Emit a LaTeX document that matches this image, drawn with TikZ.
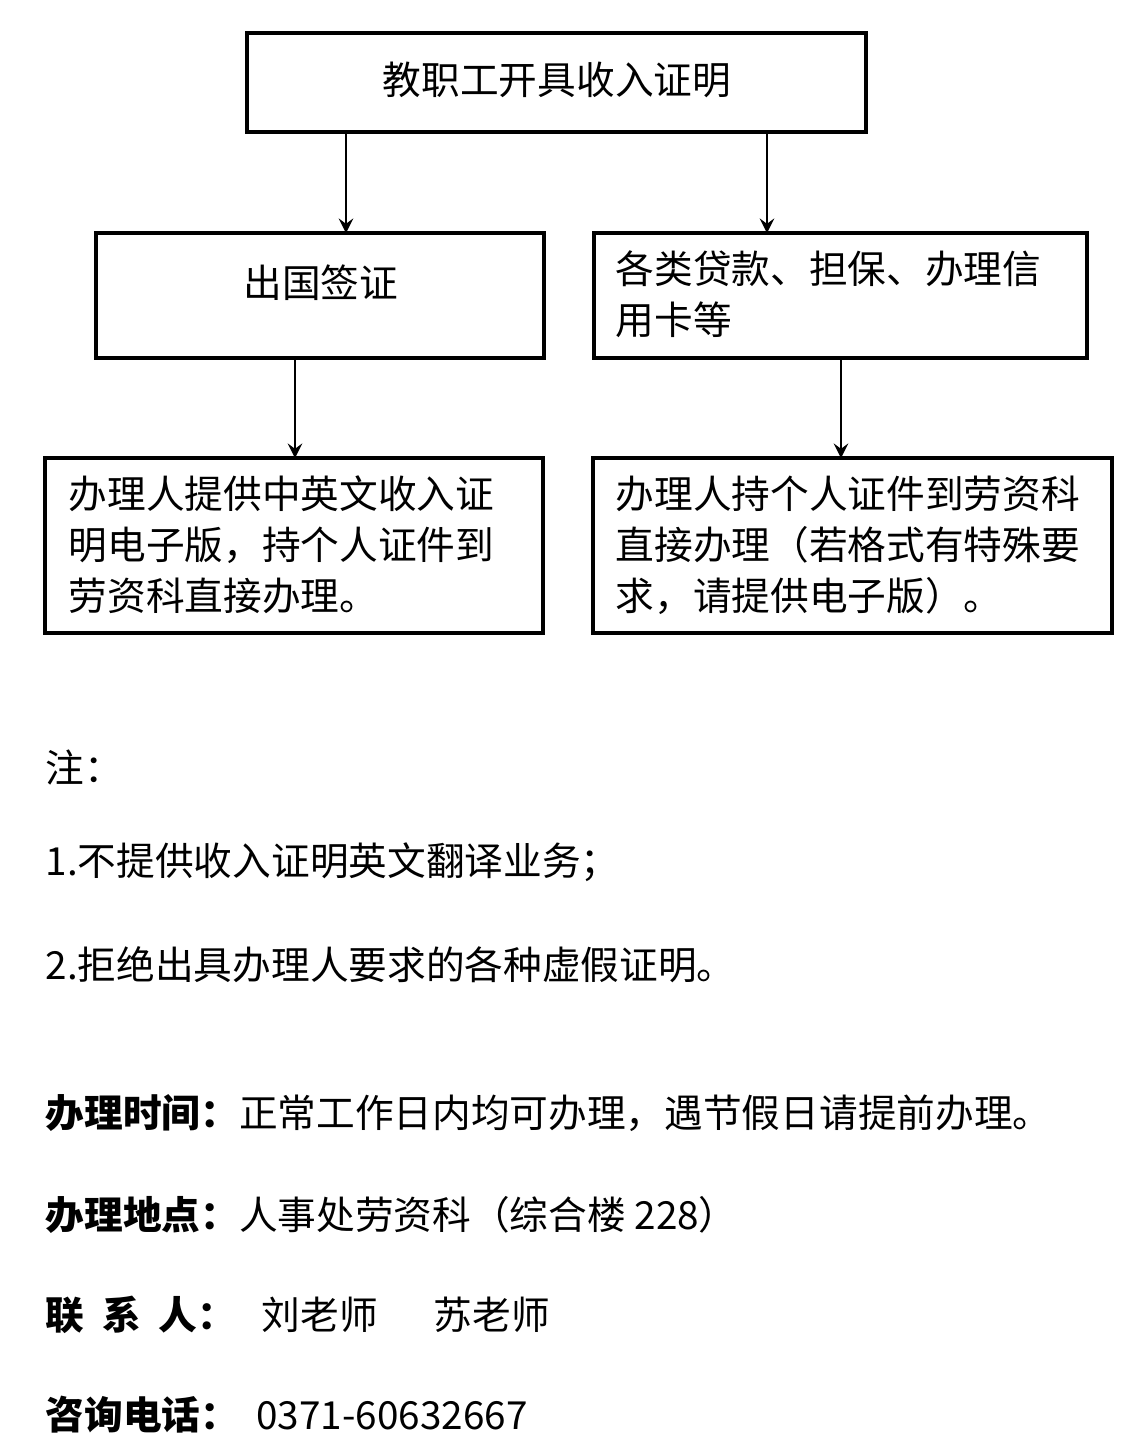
\documentclass[tikz,border=0pt]{standalone}
\usepackage{fontspec}
\setmainfont{Noto Sans CJK SC}
\usetikzlibrary{positioning}
\tikzset{
  flowbox/.style={draw,line width=1.2pt,inner sep=0pt},
  boxtext/.style={font=\fontsize{11}{14.5}\selectfont,align=left,anchor=north west,inner sep=0pt},
  notetext/.style={font=\fontsize{11}{14.5}\selectfont,anchor=west,inner sep=0pt},
  flowarrow/.style={->,line width=0.8pt,>=stealth}
}
\begin{document}
\begin{tikzpicture}[x=0.01cm,y=-0.01cm]
\useasboundingbox (0,0) rectangle (1138,1438);
% boxes
\draw[flowbox] (247,33) rectangle (866,132);
\node[font=\fontsize{11}{14.5}\selectfont] (top) at (557,80) {教职工开具收入证明};
\draw[flowbox] (96,233) rectangle (544,358);
\node[font=\fontsize{11}{14.5}\selectfont] (visa) at (321,283) {出国签证};
\draw[flowbox] (594,233) rectangle (1087,358);
\node[boxtext] (loan) at (615,250) {各类贷款、担保、办理信\\用卡等};
\draw[flowbox] (45,458) rectangle (543,633);
\node[boxtext] (stepL) at (68,475) {办理人提供中英文收入证\\明电子版，持个人证件到\\劳资科直接办理。};
\draw[flowbox] (593,458) rectangle (1112,633);
\node[boxtext] (stepR) at (615,475) {办理人持个人证件到劳资科\\直接办理（若格式有特殊要\\求，请提供电子版）。};
% arrows
\coordinate (a1) at (346,132); \coordinate (a2) at (346,233);
\coordinate (b1) at (767,132); \coordinate (b2) at (767,233);
\coordinate (c1) at (295,358); \coordinate (c2) at (295,458);
\coordinate (d1) at (841,358); \coordinate (d2) at (841,458);
\draw[flowarrow] (a1) -- (a2);
\draw[flowarrow] (b1) -- (b2);
\draw[flowarrow] (c1) -- (c2);
\draw[flowarrow] (d1) -- (d2);
% notes
\node[notetext] (note) at (45,767) {注：};
\node[notetext] (n1) at (45,862) {1.不提供收入证明英文翻译业务；};
\node[notetext] (n2) at (45,965) {2.拒绝出具办理人要求的各种虚假证明。};
\node[notetext] (t1) at (45,1113) {\bfseries 办理时间：\mdseries 正常工作日内均可办理，遇节假日请提前办理。};
\node[notetext] (t2) at (45,1215) {\bfseries 办理地点：\mdseries 人事处劳资科（综合楼 228）};
\node[notetext] (t3) at (45,1315) {\bfseries 联\ \ 系\ \ 人：\mdseries\ \ \ 刘老师\quad\ \ 苏老师};
\node[notetext] (t4) at (45,1415) {\bfseries 咨询电话：\mdseries\ \ 0371-60632667};
\end{tikzpicture}
\end{document}
